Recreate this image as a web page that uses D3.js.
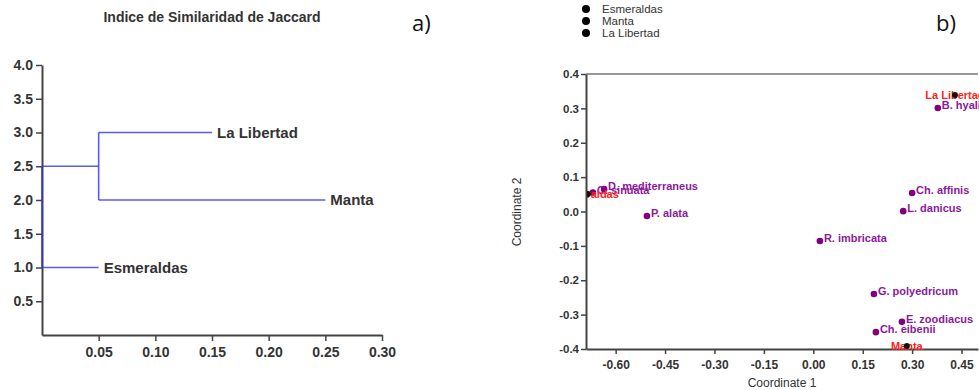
<!DOCTYPE html>
<html>
<head>
<meta charset="utf-8">
<script src="https://cdn.jsdelivr.net/npm/d3@7"></script>
<style>
  body { margin: 0; background: #fff; }
  svg { display: block; font-family: "Liberation Sans", Arial, sans-serif; }
</style>
</head>
<body>
<div id="chart"></div>
<script>
// ---- a) dendrogram data (Jaccard) ----
var leafNames = ['Esmeraldas', 'Manta', 'La Libertad'];
var leafPos = [1.0, 2.0, 3.0];
var leafStart = [0.0, 0.05, 0.05];
var leafEnd = [0.05, 0.25, 0.15];
// merges: x = distance, low/high = positions joined, mid = stem position
var mergeX = [0.05, 0.0];
var mergeLow = [2.0, 1.0];
var mergeHigh = [3.0, 2.5];
var mergeStemTo = [0.0, null];
var mergeStemPos = [2.5, null];
var xTicksA = [0.05, 0.10, 0.15, 0.20, 0.25, 0.30];
var yTicksA = [0.5, 1.0, 1.5, 2.0, 2.5, 3.0, 3.5, 4.0];

// ---- b) ordination data ----
var siteNames = ['Esmeraldas', 'Manta', 'La Libertad'];
var siteX = [-0.684, 0.284, 0.430];
var siteY = [0.051, -0.391, 0.339];
var speciesNames = ['B. hyalina', 'D. mediterraneus', 'C. sinuata', 'P. alata', 'Ch. affinis', 'L. danicus',
                    'R. imbricata', 'G. polyedricum', 'E. zoodiacus', 'Ch. eibenii'];
var speciesX = [0.378, -0.635, -0.669, -0.505, 0.300, 0.273, 0.020, 0.184, 0.269, 0.190];
var speciesY = [0.301, 0.065, 0.055, -0.013, 0.054, 0.001, -0.086, -0.240, -0.321, -0.351];
var xTicksB = [-0.60, -0.45, -0.30, -0.15, 0.00, 0.15, 0.30, 0.45];
var yTicksB = [-0.4, -0.3, -0.2, -0.1, 0.0, 0.1, 0.2, 0.3, 0.4];

var width = 979, height = 390;
var svg = d3.select('#chart').append('svg')
    .attr('width', width)
    .attr('height', height);

var axisColor = '#444';
var textColor = '#333';

function styleAxis(g, fontSize) {
    g.select('.domain').attr('stroke', axisColor).attr('stroke-width', 2);
    g.selectAll('.tick line').attr('stroke', axisColor).attr('stroke-width', 1.5);
    g.selectAll('.tick text')
        .attr('fill', textColor)
        .attr('font-size', fontSize)
        .attr('font-weight', 'bold')
        .attr('font-family', '"Liberation Sans", Arial, sans-serif');
}

// ================= a) =================
var xA = d3.scaleLinear().domain([0, 0.30]).range([42, 382]);
var yA = d3.scaleLinear().domain([0, 4]).range([335, 65]);

svg.append('text')
    .attr('x', 212).attr('y', 22)
    .attr('text-anchor', 'middle')
    .attr('font-size', 14).attr('font-weight', 'bold')
    .attr('fill', textColor)
    .text('Indice de Similaridad de Jaccard');

svg.append('text')
    .attr('x', 412).attr('y', 31)
    .attr('font-size', 22)
    .attr('font-family', '"Open Sans", sans-serif')
    .attr('fill', '#111')
    .text('a)');

var gyA = svg.append('g')
    .attr('transform', 'translate(' + xA(0) + ',0)')
    .call(d3.axisLeft(yA).tickValues(yTicksA).tickFormat(d3.format('.1f')).tickSize(6).tickSizeOuter(0).tickPadding(3));
styleAxis(gyA, 14);

var gxA = svg.append('g')
    .attr('transform', 'translate(0,' + yA(0) + ')')
    .call(d3.axisBottom(xA).tickValues(xTicksA).tickFormat(d3.format('.2f')).tickSize(6).tickSizeOuter(0).tickPadding(6));
styleAxis(gxA, 14);

var dendro = svg.append('g')
    .attr('stroke', '#3030ff')
    .attr('stroke-opacity', 0.8)
    .attr('stroke-width', 1.6)
    .attr('fill', 'none');

// leaf branches
dendro.selectAll('line.leaf')
    .data(leafNames)
    .enter().append('line')
    .attr('class', 'leaf')
    .attr('x1', function(d, i){ return xA(leafStart[i]); })
    .attr('x2', function(d, i){ return xA(leafEnd[i]); })
    .attr('y1', function(d, i){ return yA(leafPos[i]); })
    .attr('y2', function(d, i){ return yA(leafPos[i]); });

// merge verticals
dendro.selectAll('line.merge')
    .data(mergeX)
    .enter().append('line')
    .attr('class', 'merge')
    .attr('x1', function(d){ return xA(d); })
    .attr('x2', function(d){ return xA(d); })
    .attr('y1', function(d, i){ return yA(mergeLow[i]); })
    .attr('y2', function(d, i){ return yA(mergeHigh[i]); });

// stems from merges to parent
dendro.selectAll('line.stem')
    .data(mergeX.filter(function(d, i){ return mergeStemTo[i] !== null; }))
    .enter().append('line')
    .attr('class', 'stem')
    .attr('x1', function(d){ return xA(d); })
    .attr('x2', function(d, i){ return xA(mergeStemTo[i]); })
    .attr('y1', function(d, i){ return yA(mergeStemPos[i]); })
    .attr('y2', function(d, i){ return yA(mergeStemPos[i]); });

svg.selectAll('text.leafLabel')
    .data(leafNames)
    .enter().append('text')
    .attr('class', 'leafLabel')
    .attr('x', function(d, i){ return xA(leafEnd[i]) + 5; })
    .attr('y', function(d, i){ return yA(leafPos[i]); })
    .attr('dy', '0.36em')
    .attr('font-size', 15).attr('font-weight', 'bold')
    .attr('fill', textColor)
    .text(function(d){ return d; });

// ================= b) =================
var xB = d3.scaleLinear().domain([-0.69, 0.5]).range([586, 978]);
var yB = d3.scaleLinear().domain([-0.4, 0.4]).range([349, 74]);

svg.append('text')
    .attr('x', 936).attr('y', 31)
    .attr('font-size', 22)
    .attr('font-family', '"Open Sans", sans-serif')
    .attr('fill', '#111')
    .text('b)');

// legend
var legend = svg.append('g');
legend.selectAll('circle')
    .data(siteNames)
    .enter().append('circle')
    .attr('cx', 586)
    .attr('cy', function(d, i){ return 9 + i * 12; })
    .attr('r', 4)
    .attr('fill', '#000');
legend.selectAll('text')
    .data(siteNames)
    .enter().append('text')
    .attr('x', 602)
    .attr('y', function(d, i){ return 9 + i * 12; })
    .attr('dy', '0.36em')
    .attr('font-size', 11.5)
    .attr('fill', textColor)
    .text(function(d){ return d; });

// top frame line
svg.append('line')
    .attr('x1', xB.range()[0]).attr('x2', xB.range()[1])
    .attr('y1', yB(0.4)).attr('y2', yB(0.4))
    .attr('stroke', '#777').attr('stroke-width', 1.5);

var gyB = svg.append('g')
    .attr('transform', 'translate(' + xB.range()[0] + ',0)')
    .call(d3.axisLeft(yB).tickValues(yTicksB).tickFormat(function(d){ return d.toFixed(1); }).tickSize(5).tickSizeOuter(0).tickPadding(2));
styleAxis(gyB, 11.5);

var gxB = svg.append('g')
    .attr('transform', 'translate(0,' + yB(-0.4) + ')')
    .call(d3.axisBottom(xB).tickValues(xTicksB).tickFormat(function(d){ return d.toFixed(2); }).tickSize(5).tickSizeOuter(0).tickPadding(6));
styleAxis(gxB, 12);

svg.append('text')
    .attr('x', 782).attr('y', 387)
    .attr('text-anchor', 'middle')
    .attr('font-size', 12)
    .attr('fill', textColor)
    .text('Coordinate 1');

svg.append('text')
    .attr('transform', 'translate(521,212) rotate(-90)')
    .attr('text-anchor', 'middle')
    .attr('font-size', 12)
    .attr('fill', textColor)
    .text('Coordinate 2');

svg.append('clipPath').attr('id', 'plotclip')
    .append('rect')
    .attr('x', xB.range()[0] + 1).attr('y', 0)
    .attr('width', width).attr('height', height);

var plot = svg.append('g').attr('clip-path', 'url(#plotclip)');

// species points + labels
plot.selectAll('circle.sp')
    .data(speciesNames)
    .enter().append('circle')
    .attr('class', 'sp')
    .attr('cx', function(d, i){ return xB(speciesX[i]); })
    .attr('cy', function(d, i){ return yB(speciesY[i]); })
    .attr('r', 3.3)
    .attr('fill', '#800080');

plot.selectAll('text.sp')
    .data(speciesNames)
    .enter().append('text')
    .attr('class', 'sp')
    .attr('x', function(d, i){ return xB(speciesX[i]) + 4; })
    .attr('y', function(d, i){ return yB(speciesY[i]) + 1; })
    .attr('font-size', 11).attr('font-weight', 'bold')
    .attr('fill', '#8a1a9a')
    .text(function(d){ return d; });

// site labels then points
plot.selectAll('text.site')
    .data(siteNames)
    .enter().append('text')
    .attr('class', 'site')
    .attr('x', function(d, i){ return xB(siteX[i]); })
    .attr('y', function(d, i){ return yB(siteY[i]) + 4.5; })
    .attr('text-anchor', 'middle')
    .attr('font-size', 11).attr('font-weight', 'bold')
    .attr('fill', '#ff2020')
    .text(function(d){ return d; });

plot.selectAll('circle.site')
    .data(siteNames)
    .enter().append('circle')
    .attr('class', 'site')
    .attr('cx', function(d, i){ return xB(siteX[i]); })
    .attr('cy', function(d, i){ return yB(siteY[i]); })
    .attr('r', 3)
    .attr('fill', '#111');
</script>
</body>
</html>
